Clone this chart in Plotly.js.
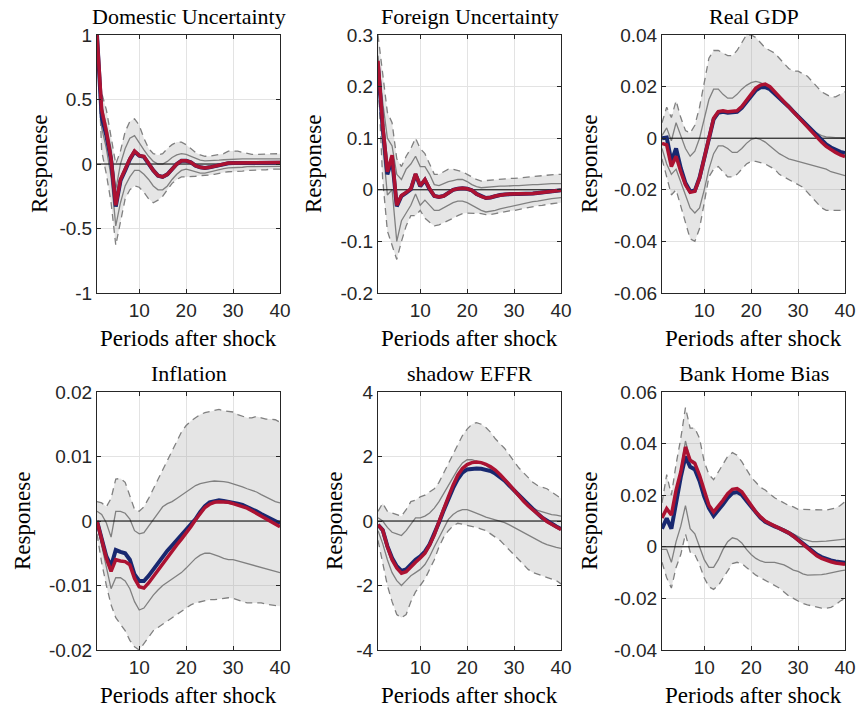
<!DOCTYPE html>
<html>
<head>
<meta charset="utf-8">
<script src="https://cdn.plot.ly/plotly-3.0.1.min.js"></script>
<style>html,body{margin:0;padding:0;background:#fff}#chart{width:860px;height:713px}</style>
</head>
<body>
<div id="chart"></div>
<script>
// ---------- data ----------
const periods = Array.from({length: 40}, (_, i) => i + 1);
const panelTitles = ["Domestic Uncertainty", "Foreign Uncertainty", "Real GDP", "Inflation", "shadow EFFR", "Bank Home Bias"];
const xTickVals = [10, 20, 30, 40];
const xTickText = ["10", "20", "30", "40"];
const xLabel = "Periods after shock";
const yLabel = "Responese";

// y tick values and labels
const domTicks = [-1, -0.5, 0, 0.5, 1];
const domTickText = ["-1", "-0.5", "0", "0.5", "1"];
const forTicks = [-0.2, -0.1, 0, 0.1, 0.2, 0.3];
const forTickText = ["-0.2", "-0.1", "0", "0.1", "0.2", "0.3"];
const gdpTicks = [-0.06, -0.04, -0.02, 0, 0.02, 0.04];
const gdpTickText = ["-0.06", "-0.04", "-0.02", "0", "0.02", "0.04"];
const infTicks = [-0.02, -0.01, 0, 0.01, 0.02];
const infTickText = ["-0.02", "-0.01", "0", "0.01", "0.02"];
const ffrTicks = [-4, -2, 0, 2, 4];
const ffrTickText = ["-4", "-2", "0", "2", "4"];
const hbTicks = [-0.04, -0.02, 0, 0.02, 0.04, 0.06];
const hbTickText = ["-0.04", "-0.02", "0", "0.02", "0.04", "0.06"];

// Domestic Uncertainty
const domRed  = [1.0,0.42,0.25,0.04,-0.32,-0.12,-0.04,0.04,0.1,0.065,0.06,0.0,-0.05,-0.09,-0.1,-0.08,-0.04,0.0,0.025,0.025,0.013,-0.013,-0.026,-0.03,-0.026,-0.018,-0.008,0.0,0.008,0.008,0.01,0.01,0.01,0.01,0.01,0.01,0.01,0.012,0.012,0.012];
const domNavy = [1.0,0.36,0.22,0.03,-0.33,-0.13,-0.05,0.035,0.095,0.065,0.055,0.0,-0.05,-0.09,-0.1,-0.08,-0.04,0.0,0.025,0.025,0.013,-0.013,-0.026,-0.03,-0.026,-0.018,-0.008,0.0,0.006,0.007,0.008,0.008,0.008,0.008,0.008,0.009,0.009,0.01,0.01,0.01];
const domHi68 = [1.0,0.45,0.3,0.12,-0.2,0.0,0.12,0.2,0.22,0.16,0.11,0.06,0.02,0.0,0.0,0.02,0.05,0.07,0.08,0.075,0.06,0.04,0.03,0.025,0.025,0.028,0.03,0.033,0.036,0.038,0.04,0.04,0.04,0.04,0.038,0.038,0.04,0.04,0.04,0.04];
const domLo68 = [1.0,0.28,0.12,-0.1,-0.48,-0.3,-0.17,-0.1,-0.05,-0.05,-0.08,-0.12,-0.17,-0.2,-0.2,-0.17,-0.12,-0.08,-0.05,-0.04,-0.05,-0.06,-0.07,-0.07,-0.06,-0.05,-0.04,-0.035,-0.03,-0.03,-0.025,-0.025,-0.02,-0.02,-0.02,-0.02,-0.02,-0.018,-0.018,-0.018];
const domHi90 = [1.0,0.55,0.42,0.22,0.0,0.1,0.25,0.33,0.35,0.3,0.2,0.12,0.08,0.07,0.08,0.12,0.15,0.17,0.17,0.15,0.12,0.09,0.07,0.06,0.06,0.065,0.07,0.08,0.1,0.1,0.1,0.09,0.08,0.075,0.075,0.075,0.075,0.08,0.08,0.08];
const domLo90 = [1.0,0.1,-0.08,-0.3,-0.63,-0.45,-0.27,-0.2,-0.17,-0.18,-0.22,-0.27,-0.3,-0.28,-0.25,-0.2,-0.15,-0.12,-0.1,-0.1,-0.1,-0.095,-0.09,-0.09,-0.085,-0.08,-0.07,-0.065,-0.06,-0.06,-0.055,-0.055,-0.05,-0.05,-0.05,-0.045,-0.045,-0.04,-0.04,-0.04];

// Foreign Uncertainty
const forRed  = [0.25,0.126,0.035,0.067,-0.03,-0.011,-0.005,0.002,0.031,0.008,0.02,0.002,-0.012,-0.014,-0.012,-0.005,0.0,0.002,0.003,0.002,-0.001,-0.008,-0.013,-0.016,-0.015,-0.012,-0.01,-0.009,-0.008,-0.008,-0.008,-0.008,-0.008,-0.007,-0.006,-0.005,-0.004,-0.003,-0.002,-0.001];
const forNavy = [0.24,0.12,0.03,0.06,-0.032,-0.012,-0.006,0.001,0.03,0.007,0.019,0.001,-0.012,-0.014,-0.012,-0.005,0.0,0.002,0.003,0.002,-0.001,-0.008,-0.013,-0.016,-0.015,-0.012,-0.01,-0.009,-0.008,-0.008,-0.008,-0.008,-0.008,-0.007,-0.006,-0.005,-0.004,-0.003,-0.002,-0.001];
const forHi68 = [0.26,0.17,0.1,0.085,0.03,0.02,0.04,0.05,0.065,0.045,0.045,0.03,0.01,0.008,0.012,0.016,0.018,0.02,0.02,0.016,0.01,0.006,0.004,0.005,0.006,0.006,0.007,0.007,0.008,0.008,0.008,0.009,0.009,0.01,0.01,0.011,0.011,0.012,0.012,0.012];
const forLo68 = [0.24,0.09,-0.01,0.0,-0.1,-0.06,-0.045,-0.03,-0.008,-0.03,-0.02,-0.03,-0.04,-0.04,-0.035,-0.03,-0.025,-0.022,-0.022,-0.025,-0.03,-0.035,-0.04,-0.043,-0.042,-0.04,-0.037,-0.035,-0.033,-0.03,-0.028,-0.027,-0.025,-0.023,-0.022,-0.02,-0.019,-0.017,-0.016,-0.015];
const forHi90 = [0.3,0.22,0.15,0.13,0.06,0.045,0.065,0.08,0.1,0.08,0.07,0.05,0.03,0.03,0.035,0.04,0.04,0.038,0.035,0.03,0.025,0.02,0.017,0.018,0.019,0.02,0.02,0.021,0.022,0.022,0.023,0.024,0.025,0.026,0.027,0.028,0.029,0.03,0.03,0.03];
const forLo90 = [0.22,0.02,-0.08,-0.11,-0.135,-0.1,-0.07,-0.05,-0.05,-0.04,-0.055,-0.063,-0.07,-0.068,-0.064,-0.06,-0.055,-0.05,-0.046,-0.045,-0.045,-0.045,-0.046,-0.048,-0.048,-0.046,-0.044,-0.042,-0.041,-0.04,-0.038,-0.036,-0.035,-0.033,-0.031,-0.03,-0.028,-0.027,-0.026,-0.025];

// Real GDP
const gdpRed  = [-0.002,-0.0026,-0.011,-0.007,-0.013,-0.018,-0.021,-0.0206,-0.0155,-0.0077,0.0013,0.0077,0.0103,0.0106,0.0103,0.0103,0.0106,0.0123,0.0148,0.0174,0.0194,0.0206,0.021,0.02,0.018,0.016,0.0142,0.0123,0.0103,0.0084,0.0065,0.0045,0.0023,0.0003,-0.0015,-0.0032,-0.0045,-0.0055,-0.0065,-0.0071];
const gdpNavy = [0.0,0.0003,-0.009,-0.004,-0.0116,-0.0174,-0.0206,-0.0203,-0.0153,-0.0077,0.001,0.0073,0.0099,0.0102,0.0099,0.0099,0.0102,0.0118,0.0142,0.0167,0.0186,0.0197,0.0198,0.019,0.0174,0.0157,0.014,0.0122,0.0103,0.0085,0.0067,0.0048,0.0028,0.0009,-0.0008,-0.0024,-0.0036,-0.0045,-0.0053,-0.0058];
const gdpHi68 = [0.001,0.004,-0.001,0.006,0.001,-0.004,-0.007,-0.005,0.0,0.008,0.015,0.019,0.019,0.017,0.0155,0.0155,0.017,0.019,0.0205,0.0215,0.022,0.0215,0.0205,0.019,0.0175,0.016,0.0145,0.013,0.011,0.009,0.007,0.005,0.003,0.002,0.001,0.0005,0.0003,0.0002,0.0002,0.0002];
const gdpLo68 = [-0.004,-0.01,-0.014,-0.012,-0.017,-0.022,-0.027,-0.029,-0.027,-0.02,-0.012,-0.006,-0.003,-0.003,-0.004,-0.0055,-0.0055,-0.004,-0.002,-0.0005,0.0,-0.0005,-0.0015,-0.003,-0.0045,-0.006,-0.007,-0.008,-0.0085,-0.009,-0.0095,-0.01,-0.0105,-0.011,-0.0115,-0.012,-0.013,-0.0135,-0.014,-0.0145];
const gdpHi90 = [0.006,0.012,0.008,0.0145,0.008,0.003,0.002,0.005,0.012,0.022,0.031,0.034,0.034,0.033,0.032,0.032,0.034,0.037,0.04,0.04,0.039,0.037,0.035,0.034,0.033,0.031,0.029,0.027,0.026,0.026,0.025,0.024,0.022,0.02,0.018,0.017,0.016,0.016,0.017,0.018];
const gdpLo90 = [-0.008,-0.015,-0.022,-0.02,-0.026,-0.033,-0.039,-0.04,-0.035,-0.025,-0.015,-0.012,-0.011,-0.013,-0.015,-0.015,-0.014,-0.012,-0.01,-0.009,-0.009,-0.0095,-0.01,-0.011,-0.012,-0.014,-0.015,-0.016,-0.017,-0.018,-0.019,-0.021,-0.023,-0.025,-0.027,-0.028,-0.028,-0.028,-0.028,-0.028];

// Inflation
const infRed  = [0.0,-0.003,-0.0058,-0.0078,-0.006,-0.0062,-0.0063,-0.0068,-0.0089,-0.0102,-0.0104,-0.0096,-0.0086,-0.0076,-0.0065,-0.0055,-0.0046,-0.0037,-0.0028,-0.0019,-0.0009,0.0002,0.0012,0.0021,0.0026,0.0029,0.003,0.003,0.0029,0.0027,0.0025,0.0022,0.002,0.0016,0.0012,0.0008,0.0004,0.0,-0.0005,-0.0009];
const infNavy = [0.0,-0.003,-0.0055,-0.007,-0.0045,-0.0048,-0.005,-0.006,-0.0083,-0.0093,-0.0093,-0.0085,-0.0075,-0.0065,-0.0055,-0.0046,-0.0038,-0.003,-0.0022,-0.0015,-0.0007,0.0003,0.0014,0.0023,0.0029,0.0031,0.0032,0.0031,0.003,0.0029,0.0027,0.0025,0.0022,0.0019,0.0015,0.0011,0.0007,0.0003,-0.0001,-0.0004];
const infHi68 = [0.0015,0.001,-0.0003,-0.0025,0.0015,0.0015,0.0012,0.0003,-0.0015,-0.002,-0.0018,-0.0008,0.0003,0.0013,0.0022,0.0027,0.003,0.0035,0.004,0.0045,0.005,0.0055,0.0058,0.006,0.0061,0.0062,0.0062,0.0061,0.006,0.0058,0.0056,0.0053,0.005,0.0048,0.0045,0.0041,0.0037,0.0033,0.003,0.0028];
const infLo68 = [-0.0005,-0.004,-0.007,-0.0105,-0.0088,-0.0088,-0.0093,-0.0105,-0.0125,-0.0138,-0.0135,-0.0125,-0.0115,-0.0107,-0.01,-0.0095,-0.009,-0.0085,-0.008,-0.0073,-0.0065,-0.0058,-0.0053,-0.005,-0.005,-0.0052,-0.0055,-0.0058,-0.006,-0.006,-0.0062,-0.0064,-0.0066,-0.0068,-0.007,-0.0072,-0.0075,-0.0077,-0.0079,-0.008];
const infHi90 = [0.003,0.0028,0.0022,0.0035,0.0065,0.0066,0.006,0.004,0.0018,0.0015,0.0022,0.0035,0.005,0.0065,0.008,0.0095,0.011,0.0125,0.0138,0.0148,0.0155,0.016,0.0165,0.0168,0.017,0.0172,0.0173,0.0171,0.017,0.0169,0.0165,0.0163,0.016,0.016,0.0162,0.016,0.0158,0.0158,0.0157,0.0153];
const infLo90 = [-0.002,-0.0065,-0.01,-0.013,-0.015,-0.016,-0.017,-0.0185,-0.0195,-0.02,-0.019,-0.018,-0.017,-0.0165,-0.016,-0.0155,-0.015,-0.0145,-0.014,-0.0135,-0.013,-0.0127,-0.0125,-0.0123,-0.0122,-0.0122,-0.0121,-0.012,-0.0119,-0.012,-0.0123,-0.0125,-0.0127,-0.0127,-0.0126,-0.0127,-0.0129,-0.013,-0.013,-0.0132];

// shadow EFFR
const ffrRed  = [-0.12,-0.28,-0.8,-1.2,-1.46,-1.62,-1.57,-1.41,-1.28,-1.15,-1.0,-0.74,-0.43,-0.02,0.39,0.75,1.11,1.42,1.63,1.75,1.81,1.83,1.81,1.76,1.68,1.58,1.44,1.3,1.13,0.96,0.78,0.62,0.47,0.34,0.21,0.08,-0.02,-0.1,-0.19,-0.26];
const ffrNavy = [-0.12,-0.28,-0.78,-1.15,-1.4,-1.55,-1.5,-1.35,-1.2,-1.1,-0.95,-0.72,-0.42,-0.05,0.33,0.68,1.02,1.3,1.5,1.6,1.63,1.63,1.62,1.6,1.55,1.47,1.37,1.25,1.1,0.95,0.8,0.64,0.49,0.36,0.23,0.1,0.0,-0.08,-0.17,-0.25];
const ffrHi68 = [0.1,0.0,-0.2,-0.35,-0.4,-0.45,-0.3,-0.1,0.1,0.1,0.15,0.25,0.4,0.6,0.85,1.1,1.35,1.6,1.8,1.9,1.9,1.85,1.8,1.72,1.62,1.5,1.35,1.2,1.05,0.9,0.75,0.6,0.5,0.4,0.33,0.28,0.24,0.2,0.18,0.15];
const ffrLo68 = [-0.3,-0.7,-1.2,-1.6,-1.85,-2.0,-1.85,-1.7,-1.6,-1.5,-1.35,-1.1,-0.8,-0.5,-0.2,0.05,0.2,0.3,0.35,0.35,0.3,0.25,0.18,0.12,0.08,0.04,0.0,-0.05,-0.12,-0.2,-0.28,-0.36,-0.44,-0.52,-0.6,-0.67,-0.73,-0.78,-0.82,-0.85];
const ffrHi90 = [0.3,0.55,0.3,0.25,0.2,0.15,0.35,0.6,0.65,0.75,0.8,0.9,1.0,1.2,1.5,1.8,2.1,2.4,2.65,2.85,3.0,3.05,3.0,2.9,2.75,2.55,2.4,2.25,2.05,1.85,1.65,1.5,1.35,1.2,1.1,1.05,1.0,0.9,0.8,0.7];
const ffrLo90 = [-0.6,-1.3,-2.0,-2.5,-2.9,-3.0,-2.9,-2.5,-2.2,-2.0,-1.8,-1.5,-1.2,-0.8,-0.5,-0.3,-0.15,-0.07,-0.1,-0.12,-0.15,-0.2,-0.25,-0.3,-0.4,-0.5,-0.6,-0.75,-0.9,-1.05,-1.2,-1.35,-1.5,-1.6,-1.65,-1.7,-1.75,-1.8,-1.85,-1.95];

// Bank Home Bias
const hbRed  = [0.0112,0.0148,0.0123,0.022,0.029,0.0387,0.0335,0.0323,0.0277,0.0213,0.0161,0.0135,0.0155,0.018,0.0206,0.0223,0.0226,0.0213,0.0187,0.0161,0.0135,0.0116,0.01,0.009,0.0081,0.0074,0.0065,0.0054,0.0041,0.0026,0.0009,-0.0006,-0.0022,-0.0035,-0.0045,-0.0053,-0.0058,-0.0063,-0.0066,-0.0068];
const hbNavy = [0.007,0.011,0.007,0.018,0.027,0.035,0.031,0.03,0.0255,0.0195,0.015,0.012,0.014,0.0165,0.019,0.0208,0.0212,0.0202,0.0178,0.0155,0.013,0.0112,0.0097,0.0087,0.0079,0.0072,0.0064,0.0054,0.0042,0.0028,0.0012,-0.0003,-0.0018,-0.003,-0.004,-0.0048,-0.0053,-0.0057,-0.006,-0.0062];
const hbHi68 = [0.012,0.015,0.013,0.022,0.03,0.041,0.034,0.033,0.028,0.022,0.0165,0.014,0.0155,0.018,0.0205,0.022,0.0222,0.021,0.0185,0.016,0.0135,0.0115,0.0098,0.0088,0.008,0.0075,0.007,0.006,0.005,0.004,0.003,0.0025,0.002,0.002,0.002,0.0022,0.0024,0.0026,0.0028,0.003];
const hbLo68 = [-0.001,-0.001,-0.006,0.002,0.008,0.016,0.007,0.005,0.0,-0.005,-0.008,-0.008,-0.005,-0.001,0.002,0.0035,0.003,0.0015,-0.001,-0.003,-0.0045,-0.0055,-0.006,-0.006,-0.006,-0.0065,-0.007,-0.008,-0.009,-0.0095,-0.0105,-0.011,-0.011,-0.011,-0.0108,-0.0105,-0.01,-0.0097,-0.0093,-0.009];
const hbHi90 = [0.017,0.028,0.02,0.032,0.042,0.054,0.046,0.046,0.042,0.033,0.028,0.026,0.029,0.032,0.035,0.0365,0.0355,0.033,0.03,0.027,0.025,0.023,0.022,0.0205,0.019,0.018,0.017,0.016,0.0155,0.0145,0.0145,0.0145,0.0145,0.0145,0.0143,0.0142,0.0145,0.015,0.016,0.0175];
const hbLo90 = [-0.006,-0.012,-0.016,-0.008,-0.003,0.005,-0.002,-0.003,-0.007,-0.012,-0.0155,-0.0165,-0.015,-0.012,-0.009,-0.0065,-0.006,-0.0065,-0.008,-0.0095,-0.011,-0.012,-0.013,-0.014,-0.015,-0.016,-0.0175,-0.019,-0.02,-0.021,-0.022,-0.0225,-0.023,-0.0235,-0.0238,-0.0238,-0.0235,-0.0225,-0.021,-0.02];

// ---------- build ----------
const panels = [
  {red: domRed, navy: domNavy, hi68: domHi68, lo68: domLo68, hi90: domHi90, lo90: domLo90, ticks: domTicks, tickText: domTickText},
  {red: forRed, navy: forNavy, hi68: forHi68, lo68: forLo68, hi90: forHi90, lo90: forLo90, ticks: forTicks, tickText: forTickText},
  {red: gdpRed, navy: gdpNavy, hi68: gdpHi68, lo68: gdpLo68, hi90: gdpHi90, lo90: gdpLo90, ticks: gdpTicks, tickText: gdpTickText},
  {red: infRed, navy: infNavy, hi68: infHi68, lo68: infLo68, hi90: infHi90, lo90: infLo90, ticks: infTicks, tickText: infTickText},
  {red: ffrRed, navy: ffrNavy, hi68: ffrHi68, lo68: ffrLo68, hi90: ffrHi90, lo90: ffrLo90, ticks: ffrTicks, tickText: ffrTickText},
  {red: hbRed, navy: hbNavy, hi68: hbHi68, lo68: hbLo68, hi90: hbHi90, lo90: hbLo90, ticks: hbTicks, tickText: hbTickText}
];

const W = 860, H = 713;
const colPx = [[97, 280], [378, 561], [662, 845]];
const rowPx = [[35, 293], [392, 650]];
const yLabelX = [[39, 313, 589], [22, 334, 589]];
const titleY = [16, 373];
const xLabelY = [338, 695];

const GRAY = 'rgb(128,128,128)';
const AX = '#262626';
const SERIF = '"Liberation Serif", "Times New Roman", serif';
const tickFont = () => ({family: 'Liberation Sans, Arial, sans-serif', size: 19, color: AX});
const serifFont = (s) => ({family: SERIF, size: s, color: '#000', weight: 'normal'});

const traces = [];
const layout = {
  width: W, height: H,
  margin: {l: 0, r: 0, t: 0, b: 0},
  paper_bgcolor: '#fff', plot_bgcolor: '#fff',
  showlegend: false,
  annotations: []
};

panels.forEach((p, i) => {
  const r = Math.floor(i / 3), c = i % 3;
  const sfx = i === 0 ? '' : String(i + 1);
  const xa = 'x' + sfx, ya = 'y' + sfx;
  const xd = [colPx[c][0] / W, colPx[c][1] / W];
  const yd = [1 - rowPx[r][1] / H, 1 - rowPx[r][0] / H];
  const yr = [p.ticks[0], p.ticks[p.ticks.length - 1]];

  layout['xaxis' + sfx] = {
    domain: xd, anchor: ya, range: [1, 40],
    tickvals: xTickVals, ticktext: xTickText, tickfont: tickFont(),
    ticks: 'inside', ticklen: 4, tickcolor: AX, tickwidth: 1,
    showline: true, linecolor: AX, linewidth: 1, mirror: 'ticks',
    showgrid: true, gridcolor: '#e3e3e3', gridwidth: 1, zeroline: false
  };
  layout['yaxis' + sfx] = {
    domain: yd, anchor: xa, range: yr,
    tickvals: p.ticks, ticktext: p.tickText, tickfont: tickFont(),
    ticks: 'inside', ticklen: 4, tickcolor: AX, tickwidth: 1,
    showline: true, linecolor: AX, linewidth: 1, mirror: 'ticks',
    showgrid: true, gridcolor: '#e3e3e3', gridwidth: 1, zeroline: false
  };

  const base = {x: periods, xaxis: xa, yaxis: ya, mode: 'lines', hoverinfo: 'skip'};
  traces.push(Object.assign({}, base, {y: p.lo90, line: {color: GRAY, width: 1.3, dash: '7px,5px'}}));
  traces.push(Object.assign({}, base, {y: p.hi90, line: {color: GRAY, width: 1.3, dash: '7px,5px'},
    fill: 'tonexty', fillcolor: 'rgba(150,150,150,0.25)'}));
  traces.push(Object.assign({}, base, {y: p.lo68, line: {color: GRAY, width: 1.3}}));
  traces.push(Object.assign({}, base, {y: p.hi68, line: {color: GRAY, width: 1.3}}));
  traces.push(Object.assign({}, base, {y: periods.map(() => 0), line: {color: '#000', width: 1}}));
  traces.push(Object.assign({}, base, {y: p.navy, line: {color: 'rgb(24,40,112)', width: 4}}));
  traces.push(Object.assign({}, base, {y: p.red, line: {color: 'rgb(172,18,50)', width: 3.5}}));

  const cx = (colPx[c][0] + colPx[c][1]) / 2 / W;
  layout.annotations.push({text: panelTitles[i], xref: 'paper', yref: 'paper', x: cx, y: 1 - titleY[r] / H,
    xanchor: 'center', yanchor: 'middle', showarrow: false, font: serifFont(22)});
  layout.annotations.push({text: xLabel, xref: 'paper', yref: 'paper', x: cx, y: 1 - xLabelY[r] / H,
    xanchor: 'center', yanchor: 'middle', showarrow: false, font: serifFont(23)});
  layout.annotations.push({text: yLabel, xref: 'paper', yref: 'paper', x: yLabelX[r][c] / W,
    y: 1 - (rowPx[r][0] + rowPx[r][1]) / 2 / H, xanchor: 'center', yanchor: 'middle',
    textangle: -90, showarrow: false, font: serifFont(23)});
});

Plotly.newPlot('chart', traces, layout, {displayModeBar: false, staticPlot: true});
</script>
</body>
</html>
